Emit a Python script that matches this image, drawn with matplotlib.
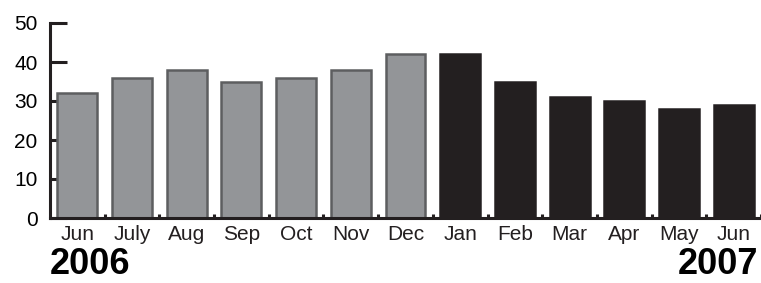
import numpy as np
import matplotlib.pyplot as plt

months = ['Jun', 'July', 'Aug', 'Sep', 'Oct', 'Nov', 'Dec',
          'Jan', 'Feb', 'Mar', 'Apr', 'May', 'Jun']
values = [32, 36, 38, 35, 36, 38, 42, 42, 35, 31, 30, 28, 29]
years = ['2006', '2007']
n_2006 = 7

plt.rcParams['font.family'] = ['Liberation Sans', 'DejaVu Sans']

fig = plt.figure(figsize=(7.61, 2.83), dpi=100)
ax = fig.add_axes([50/761, 1-218/283, 1-50/761, (218-23)/283])

x = np.arange(len(months))
colors = ['#939598'] * n_2006 + ['#231f20'] * (len(months) - n_2006)
edges = ['#5d5e60'] * n_2006 + ['#231f20'] * (len(months) - n_2006)
ax.bar(x, values, width=0.73, color=colors, edgecolor=edges,
       linewidth=1.8, zorder=3)

ax.set_xlim(-0.5, len(months) - 0.5)
ax.set_ylim(0, 50)

for side in ['top', 'right']:
    ax.spines[side].set_visible(False)
for side in ['left', 'bottom']:
    ax.spines[side].set_linewidth(2.2)
    ax.spines[side].set_color('#231f20')
    ax.spines[side].set_zorder(4)

ax.set_yticks(range(0, 51, 10))
ax.tick_params(axis='y', direction='in', length=12, width=2.2,
               color='#231f20', labelsize=15, pad=9)
ax.set_xticks(x)
ax.set_xticklabels(months)
ax.tick_params(axis='x', which='major', length=0, labelsize=15, pad=5,
               labelcolor='#231f20')
ax.set_xticks(x + 0.5, minor=True)
ax.tick_params(axis='x', which='minor', direction='in', length=3, width=2.2,
               color='#231f20')

fig.text(50/761, 1/283, years[0], fontsize=26, fontweight='bold',
         ha='left', va='bottom')
fig.text(678/761, 1/283, years[1], fontsize=26, fontweight='bold',
         ha='left', va='bottom')

fig.savefig('out.png', dpi=100)
